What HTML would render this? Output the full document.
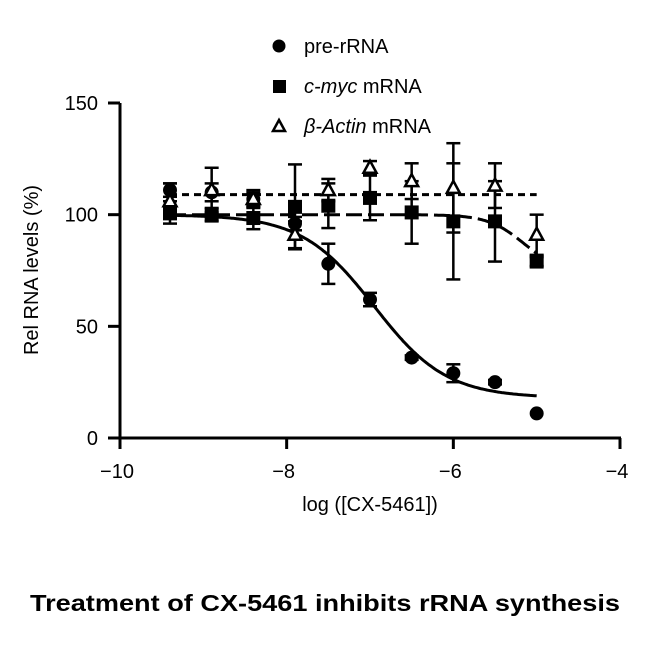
<!DOCTYPE html>
<html><head><meta charset="utf-8"><style>
html,body{margin:0;padding:0;background:#fff;}
svg{display:block;font-family:"Liberation Sans",Arial,sans-serif;}
</style></head><body>
<svg id="chart" width="650" height="650" viewBox="0 0 650 650">
<g id="axes"></g>
<g id="fits"></g>
<g id="marks"></g>
<g>
 <circle cx="279" cy="46" r="6.5" fill="#000"/>
 <text x="304" y="53" font-size="20">pre-rRNA</text>
 <rect x="273" y="80" width="13" height="13" fill="#000"/>
 <text x="304" y="93" font-size="20"><tspan font-style="italic">c-myc</tspan> mRNA</text>
 <path d="M279,120 L285,131 L273,131 Z" fill="#fff" stroke="#000" stroke-width="2.5"/>
 <text x="304" y="133" font-size="20"><tspan font-style="italic">β-Actin</tspan> mRNA</text>
</g>
<text x="370" y="511" font-size="20" text-anchor="middle">log ([CX-5461])</text>
<text transform="translate(38,270) rotate(-90)" font-size="20" text-anchor="middle">Rel RNA levels (%)</text>
<text x="325" y="611" font-size="23" font-weight="bold" text-anchor="middle" textLength="590" lengthAdjust="spacingAndGlyphs">Treatment of CX-5461 inhibits rRNA synthesis</text>
</svg>
<script>
const xVals = [-9.4, -8.9, -8.4, -7.9, -7.5, -7.0, -6.5, -6.0, -5.5, -5.0];
const preRRNA = [111, 110, 107, 96, 78, 62, 36, 29, 25, 11];
const preErr = [3, 4, 3, 3, 9, 3, 1, 4, 1, 0];
const cmyc = [101, 100, 98.5, 103.5, 104, 107.5, 101, 97, 97, 79];
const cmycErr = [5, 3, 5, 19, 10, 10, 14, 26, 18, 2];
const actin = [106, 111, 107, 91, 111, 121, 115, 112, 113, 91];
const actinErr = [8, 10, 4, 6, 5, 3, 8, 20, 10, 9];
const xTicks = [-10, -8, -6, -4];
const yTicks = [0, 50, 100, 150];
const fitPre = {top: 100, bottom: 18, logIC50: -6.95, hill: 1};
const fitMyc = {top: 100, bottom: 74, logIC50: -5.15, hill: 2};
const fitActin = {level: 109};

const NS = "http://www.w3.org/2000/svg";
const X = v => 120 + (v + 10) * (500 / 6);
const Y = v => 438 - v * (335 / 150);
function mk(tag, attrs, parent) {
  const e = document.createElementNS(NS, tag);
  for (const k in attrs) e.setAttribute(k, attrs[k]);
  parent.appendChild(e);
  return e;
}
const axes = document.getElementById('axes');
let e = mk('line', {x1: 120, y1: Y(150), x2: 120, y2: 438, stroke: '#000', 'stroke-width': 3}, axes);


e = mk('line', {x1: 108, y1: 438, x2: 621, y2: 438, stroke: '#000', 'stroke-width': 3}, axes);


yTicks.forEach(t => {
  const l = mk('line', {x1: 108, y1: Y(t), x2: 120, y2: Y(t), stroke: '#000', 'stroke-width': 3}, axes);
  
  
  const tx = mk('text', {x: 98, y: Y(t) + 7, 'font-size': 20, 'text-anchor': 'end'}, axes);
  tx.textContent = t;
  
  
});
xTicks.forEach(t => {
  const l = mk('line', {x1: X(t), y1: 438, x2: X(t), y2: 449, stroke: '#000', 'stroke-width': 3}, axes);
  
  
  const tx = mk('text', {x: X(t) - 3, y: 478, 'font-size': 20, 'text-anchor': 'middle'}, axes);
  tx.textContent = '\u2212' + Math.abs(t);
  
  
});
const fits = document.getElementById('fits');
function sig(p, x) { return p.bottom + (p.top - p.bottom) / (1 + Math.pow(10, p.hill * (x - p.logIC50))); }
function curvePath(p) {
  let d = '';
  for (let x = -9.4; x <= -5.0001; x += 0.02) d += (d ? 'L' : 'M') + X(x).toFixed(1) + ',' + Y(sig(p, x)).toFixed(1);
  d += 'L' + X(-5) + ',' + Y(sig(p, -5)).toFixed(1);
  return d;
}
e = mk('path', {d: curvePath(fitPre), fill: 'none', stroke: '#000', 'stroke-width': 3}, fits);


e = mk('path', {d: curvePath(fitMyc), fill: 'none', stroke: '#000', 'stroke-width': 3, 'stroke-dasharray': '16,6'}, fits);


e = mk('line', {x1: X(-9.4), y1: Y(fitActin.level), x2: X(-5), y2: Y(fitActin.level), stroke: '#000', 'stroke-width': 3, 'stroke-dasharray': '7,5'}, fits);



const marks = document.getElementById('marks');
function errbar(x, v, er, name) {
  if (er <= 0) return;
  const g = mk('g', {stroke: '#000', 'stroke-width': 2.5}, marks);
  
  
  mk('line', {x1: X(x), y1: Y(v + er), x2: X(x), y2: Y(v - er)}, g);
  mk('line', {x1: X(x) - 7, y1: Y(v + er), x2: X(x) + 7, y2: Y(v + er)}, g);
  mk('line', {x1: X(x) - 7, y1: Y(v - er), x2: X(x) + 7, y2: Y(v - er)}, g);
}
xVals.forEach((x, i) => {
  errbar(x, actin[i], actinErr[i], 'error-bar-beta-actin');
  errbar(x, cmyc[i], cmycErr[i], 'error-bar-c-myc');
  errbar(x, preRRNA[i], preErr[i], 'error-bar-pre-rrna');
});
xVals.forEach((x, i) => {
  const c = mk('circle', {cx: X(x), cy: Y(preRRNA[i]), r: 7, fill: '#000'}, marks);
  
  
  const s = mk('rect', {x: X(x) - 7, y: Y(cmyc[i]) - 7, width: 14, height: 14, fill: '#000'}, marks);
  
  
  const cx = X(x), cy = Y(actin[i]);
  const t = mk('path', {d: `M${cx},${cy - 7} L${cx + 6.5},${cy + 5} L${cx - 6.5},${cy + 5} Z`, fill: '#fff', stroke: '#000', 'stroke-width': 2.5}, marks);
  
  
});
</script>
</body></html>
